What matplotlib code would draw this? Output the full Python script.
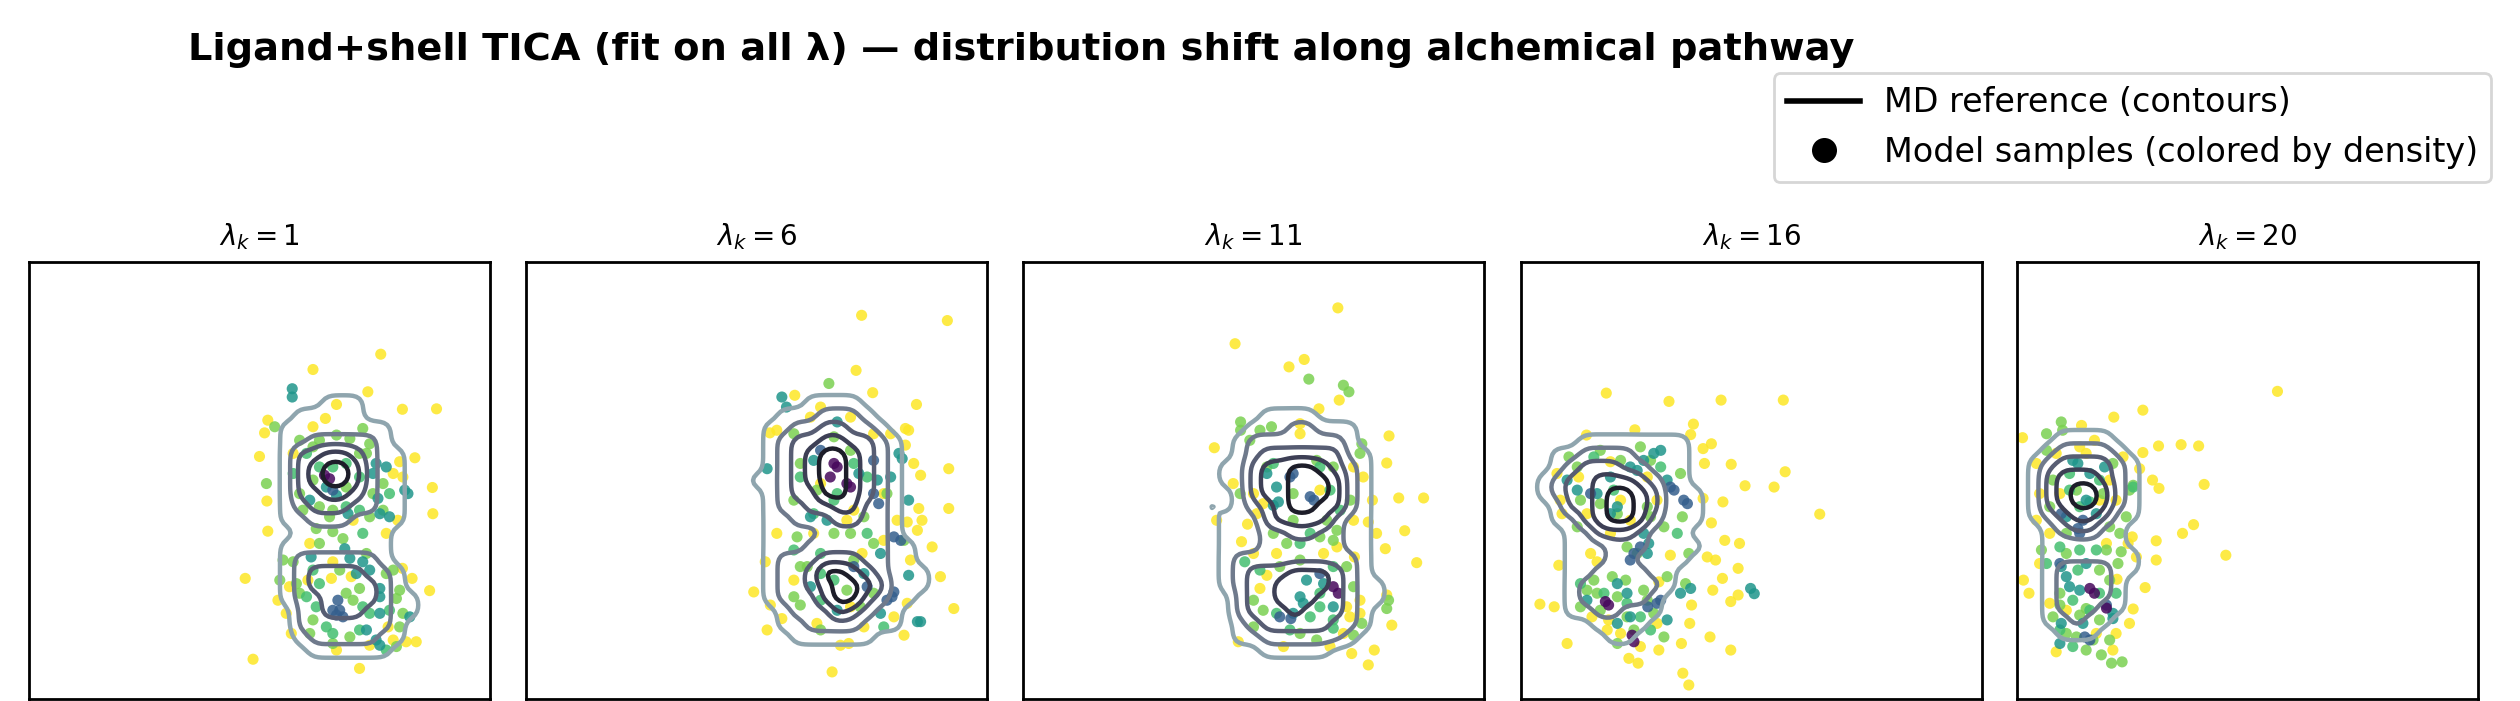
import numpy as np
import matplotlib
matplotlib.use("Agg")
import matplotlib.pyplot as plt
from matplotlib.lines import Line2D

# -------- panels --------
LAMBDAS = [1, 6, 11, 16, 20]

# MD reference density, read off as contour level per grid cell
# (0 = outside, 5 = core), rows from top to bottom, cells 3 units apart
GRID_STEP = 3
GRID_ORIGIN = [(50, 74), (47, 74), (38, 68), (2, 62), (1, 63)]   # (x of first col, y of top row)

GRID_1 = ["0000000000000", "0000000000000", "0000011100000", "0001111100000",
          "0011111111000", "0011222221000", "0013344321100", "0013455421100",
          "0013455421100", "0013344321100", "0012333221100", "0011222111100",
          "0001111111000", "0011111111000", "0012222221000", "0012333322100",
          "0012333332100", "0012233332110", "0002233322110", "0002222222100",
          "0001222221100", "0000111111000", "0000000000000", "0000000000000"]

GRID_2 = ["000000000000000", "000000000000000", "000001111000000", "000111222100000",
          "001122332210000", "001233443321000", "001234554321000", "001234554321000",
          "011234554321000", "001233554321000", "001223344221000", "001122233221000",
          "001111222221000", "001112222221100", "001222333221100", "001223554321110",
          "001223455431110", "001222455321100", "000122243211000", "000112222111000",
          "000011111100000", "000000000000000"]

GRID_3 = ["000000000000000", "000001111000000", "000011122111000", "000122222221000",
          "000123333331100", "001134455432100", "001134455542100", "000134455542100",
          "010123455442100", "001113444421100", "001112233221100", "001112222221100",
          "001222222222100", "001233344432100", "001233454432110", "000233444332110",
          "000233343332100", "000123333322100", "000112222221000", "000001111100000",
          "000000000000000", "000000000000000"]

GRID_4 = ["000000000000000", "000011111111000", "001122221111000", "001233322111000",
          "012334443211000", "012334554311100", "001334554311100", "001134554211100",
          "000113332111000", "000111222111100", "000111221111000", "000112222110000",
          "000122222210000", "000122222100000", "000112211101000", "000001111000000",
          "000000110000000", "000000000000000", "000000000000000"]

GRID_5 = ["00000000000", "00011110000", "00122221000", "01233332100",
          "01344432100", "01345542100", "01345542100", "01234431100",
          "00123311000", "00111111000", "00111111100", "00122221100",
          "00122221000", "00122221000", "00122211000", "00112110000",
          "00011100000", "00000000000", "00000000000"]

# model samples: (x, y, density class) in panel units 0..100
# y = sparse/yellow, l = light green, g = green, t = teal, b = blue, p = purple (densest)
PTS_1 = [
    (76.3, 78.9, "y"), (61.6, 75.4, "y"), (73.5, 70.3, "y"), (66.7, 67.4, "y"), (81.0, 66.3, "y"),
    (88.4, 66.4, "y"), (51.8, 63.8, "y"), (51.1, 60.9, "y"), (61.6, 62.3, "y"), (64.3, 64.2, "y"),
    (50.0, 55.5, "y"), (83.7, 55.2, "y"), (80.4, 54.3, "y"), (87.5, 48.4, "y"), (51.6, 45.3, "y"),
    (87.6, 42.4, "y"), (51.8, 38.4, "y"), (46.9, 27.6, "y"), (86.9, 24.8, "y"), (48.6, 9.1, "y"),
    (71.7, 7.0, "y"), (81.0, 29.9, "y"), (83.1, 27.6, "y"), (84.0, 13.1, "y"), (81.8, 13.1, "y"),
    (56.9, 15.0, "y"), (55.8, 19.6, "y"), (54.0, 22.6, "y"), (81.1, 50.8, "y"), (80.0, 40.9, "y"),
    (77.5, 37.9, "y"), (70.3, 40.9, "y"), (60.9, 35.6, "y"), (65.9, 31.4, "y"), (69.9, 28.0, "y"),
    (65.6, 27.6, "y"), (73.9, 12.3, "y"), (77.9, 16.5, "y"), (79.0, 13.5, "y"), (57.3, 56.2, "y"),
    (79.0, 51.6, "y"), (60.5, 27.2, "y"), (66.7, 11.2, "y"), (56.5, 25.7, "y"),
    (57.1, 71.0, "t"), (57.1, 69.1, "t"), (81.5, 47.8, "t"), (82.2, 47.0, "t"), (76.1, 25.3, "t"),
    (76.1, 23.4, "t"), (75.3, 13.5, "t"), (76.1, 12.3, "t"), (69.6, 32.2, "t"), (68.5, 34.4, "t"),
    (61.2, 32.5, "t"), (78.2, 41.7, "t"), (82.6, 18.8, "t"), (75.7, 45.9, "t"), (72.4, 31.4, "t"),
    (77.5, 53.1, "t"), (64.5, 48.5, "t"), (66.7, 46.6, "t"), (75.3, 53.9, "t"), (76.1, 42.4, "t"),
    (60.9, 45.5, "t"), (74.6, 51.6, "t"), (69.2, 42.4, "t"), (73.9, 29.5, "t"), (71.0, 28.7, "t"),
    (76.1, 19.6, "t"), (73.2, 15.8, "t"),
    (53.3, 62.3, "l"), (72.4, 61.9, "l"), (51.5, 49.3, "l"), (55.1, 31.8, "l"), (57.3, 31.4, "l"),
    (62.3, 39.0, "l"), (65.9, 38.3, "l"), (68.1, 36.7, "l"), (71.7, 25.3, "l"), (79.7, 23.0, "l"),
    (81.1, 19.6, "l"), (58.7, 59.2, "l"), (63.0, 59.2, "l"), (69.6, 59.6, "l"), (73.2, 56.2, "l"),
    (61.6, 50.1, "l"), (68.8, 48.5, "l"), (65.2, 41.7, "l"), (59.4, 43.2, "l"), (74.6, 47.0, "l"),
    (76.8, 43.2, "l"), (73.2, 33.3, "l"), (77.5, 28.7, "l"), (70.3, 22.6, "l"), (65.9, 12.7, "l"),
    (79.7, 12.0, "l"), (58.0, 26.4, "l"), (61.6, 18.1, "l"), (66.7, 60.4, "l"), (73.9, 58.4, "l"),
    (76.8, 49.3, "l"), (73.9, 41.7, "l"), (65.9, 43.2, "l"), (63.0, 44.0, "l"), (58.7, 47.0, "l"),
    (61.6, 57.7, "l"), (71.7, 56.2, "l"), (63.0, 35.6, "l"), (79.0, 29.5, "l"), (80.4, 24.9, "l"),
    (67.4, 29.5, "l"), (58.7, 24.2, "l"), (68.8, 24.2, "l"), (69.6, 14.2, "l"), (60.9, 15.0, "l"),
    (80.4, 16.5, "l"), (54.4, 27.2, "l"),
    (63.0, 53.1, "g"), (65.9, 53.1, "g"), (68.8, 53.9, "g"), (57.3, 51.6, "g"), (71.7, 50.8, "g"),
    (65.9, 15.0, "g"), (71.7, 15.8, "g"), (60.2, 23.4, "g"), (73.9, 19.6, "g"), (63.0, 26.4, "g"),
    (78.2, 47.0, "g"), (71.7, 43.2, "g"), (68.8, 44.0, "g"), (60.2, 56.2, "g"), (72.4, 37.9, "g"),
    (61.6, 29.5, "g"), (62.3, 21.1, "g"), (72.4, 21.1, "g"), (78.2, 20.3, "g"), (64.5, 16.5, "g"),
    (77.5, 11.2, "g"),
    (67.0, 22.6, "b"), (67.4, 20.3, "b"), (65.9, 20.3, "b"), (68.1, 18.8, "b"), (65.9, 47.8, "b"),
    (66.7, 19.2, "b"), (64.1, 51.2, "p"), (65.2, 50.4, "p"),
]

PTS_2 = [
    (72.8, 87.8, "y"), (91.4, 86.6, "y"), (71.6, 75.2, "y"), (75.2, 70.1, "y"), (84.7, 67.4, "y"),
    (58.3, 69.5, "y"), (82.3, 61.9, "y"), (83.0, 61.5, "y"), (52.9, 60.9, "y"), (82.3, 58.1, "y"),
    (84.1, 53.9, "y"), (91.7, 52.7, "y"), (85.6, 51.2, "y"), (91.7, 43.6, "y"), (85.2, 43.6, "y"),
    (82.7, 40.5, "y"), (85.9, 40.9, "y"), (84.9, 38.6, "y"), (88.1, 34.8, "y"), (89.9, 28.0, "y"),
    (92.8, 20.7, "y"), (49.4, 24.5, "y"), (53.0, 21.5, "y"), (52.3, 15.8, "y"), (55.5, 18.4, "y"),
    (82.0, 14.6, "y"), (68.2, 12.3, "y"), (70.0, 12.7, "y"), (66.4, 6.2, "y"), (51.9, 31.4, "y"),
    (54.4, 37.9, "y"), (79.8, 18.8, "y"), (82.7, 21.9, "y"), (63.9, 66.8, "y"), (77.6, 36.3, "y"),
    (72.9, 33.3, "y"), (77.6, 47.0, "y"), (63.9, 49.3, "y"), (58.1, 27.2, "y"), (70.4, 21.1, "y"),
    (54.4, 61.5, "y"), (71.1, 43.2, "y"), (61.7, 64.5, "y"), (70.4, 64.5, "y"), (75.4, 60.7, "y"),
    (69.6, 40.9, "y"), (79.1, 60.7, "y"), (62.4, 37.9, "y"), (73.3, 16.5, "y"), (63.1, 17.3, "y"),
    (83.4, 31.8, "y"), (80.5, 40.9, "y"),
    (55.5, 69.1, "t"), (56.5, 66.8, "t"), (52.3, 52.7, "t"), (80.9, 56.2, "t"), (81.6, 55.0, "t"),
    (83.0, 45.5, "t"), (84.9, 17.7, "t"), (85.6, 17.7, "t"), (83.0, 28.3, "t"), (72.2, 51.6, "t"),
    (73.3, 28.7, "t"), (67.5, 63.4, "t"), (79.1, 50.8, "t"), (61.7, 41.7, "t"), (65.3, 40.9, "t"),
    (76.2, 50.1, "t"), (62.4, 54.6, "t"), (76.9, 33.3, "t"), (67.5, 20.3, "t"), (61.7, 25.7, "t"),
    (76.9, 19.6, "t"),
    (65.7, 72.2, "l"), (66.8, 60.0, "l"), (59.5, 53.9, "l"), (78.3, 47.0, "l"), (70.4, 37.9, "l"),
    (58.8, 37.1, "l"), (75.4, 24.2, "l"), (59.5, 30.3, "l"), (70.4, 56.9, "l"), (63.1, 47.8, "l"),
    (69.6, 24.9, "l"), (75.4, 35.6, "l"), (59.5, 21.5, "l"), (63.9, 15.8, "l"), (82.0, 36.3, "l"),
    (58.1, 60.7, "l"), (58.1, 45.5, "l"), (73.3, 41.7, "l"), (66.8, 37.9, "l"), (61.0, 30.3, "l"),
    (71.1, 31.8, "l"), (72.5, 21.1, "l"), (58.1, 23.4, "l"),
    (62.4, 42.4, "g"), (67.5, 47.0, "g"), (63.9, 28.7, "g"), (74.0, 50.8, "g"), (58.1, 34.1, "g"),
    (59.5, 50.8, "g"), (71.1, 53.9, "g"), (66.8, 45.5, "g"), (74.0, 37.9, "g"), (63.9, 33.3, "g"),
    (63.9, 22.6, "g"), (66.8, 27.2, "g"), (77.6, 16.5, "g"),
    (79.8, 37.1, "b"), (81.3, 36.3, "b"), (79.8, 24.5, "b"), (79.4, 23.4, "b"), (78.3, 22.6, "b"),
    (75.4, 54.6, "b"), (63.9, 56.9, "b"), (76.5, 44.7, "b"), (71.1, 30.3, "b"), (75.4, 47.0, "b"),
    (74.0, 25.7, "b"),
    (66.8, 53.9, "p"), (67.5, 53.1, "p"), (69.6, 49.3, "p"), (70.4, 48.5, "p"), (66.0, 50.8, "p"),
]

PTS_3 = [
    (68.3, 89.5, "y"), (46.0, 81.3, "y"), (61.0, 77.7, "y"), (57.7, 76.0, "y"), (68.6, 68.4, "y"),
    (64.2, 66.4, "y"), (41.5, 57.5, "y"), (79.4, 60.2, "y"), (78.9, 54.0, "y"), (81.5, 46.0, "y"),
    (86.9, 46.0, "y"), (75.8, 45.5, "y"), (82.8, 38.5, "y"), (76.7, 37.9, "y"), (74.9, 40.5, "y"),
    (78.6, 34.4, "y"), (85.4, 31.2, "y"), (71.9, 32.5, "y"), (78.9, 23.8, "y"), (80.0, 16.9, "y"),
    (76.2, 11.2, "y"), (74.9, 7.8, "y"), (71.3, 10.4, "y"), (46.7, 13.1, "y"), (56.5, 12.0, "y"),
    (42.0, 40.9, "y"), (47.4, 36.0, "y"), (48.7, 40.0, "y"), (51.4, 25.3, "y"), (52.9, 28.3, "y"),
    (55.0, 33.3, "y"), (64.4, 47.8, "y"), (65.2, 33.3, "y"), (73.1, 22.6, "y"), (70.9, 18.8, "y"),
    (66.6, 12.0, "y"), (60.1, 63.0, "y"), (71.7, 53.1, "y"), (45.6, 49.3, "y"), (52.1, 44.7, "y"),
    (60.1, 60.7, "y"), (73.8, 50.8, "y"), (50.0, 47.0, "y"), (50.7, 42.4, "y"), (71.7, 40.9, "y"),
    (68.1, 34.8, "y"), (50.0, 33.3, "y"), (70.2, 21.1, "y"), (73.1, 19.6, "y"), (69.5, 15.0, "y"),
    (62.0, 73.2, "l"), (69.5, 71.8, "l"), (70.7, 70.3, "l"), (47.2, 63.4, "l"), (47.2, 61.5, "l"),
    (51.4, 61.5, "l"), (53.9, 62.3, "l"), (73.5, 58.4, "l"), (79.3, 22.6, "l"), (78.9, 20.7, "l"),
    (73.5, 17.3, "l"), (71.7, 14.6, "l"), (47.1, 47.0, "l"), (58.6, 40.9, "l"), (57.2, 35.6, "l"),
    (64.4, 37.1, "l"), (67.3, 36.3, "l"), (60.1, 31.8, "l"), (70.2, 30.3, "l"), (52.1, 20.3, "l"),
    (60.1, 15.0, "l"), (63.7, 54.6, "l"), (52.9, 53.1, "l"), (49.2, 59.2, "l"), (73.1, 56.2, "l"),
    (71.0, 45.5, "l"), (65.9, 40.9, "l"), (68.1, 38.6, "l"), (58.6, 47.0, "l"), (67.3, 53.1, "l"),
    (54.3, 37.9, "l"), (55.7, 30.3, "l"), (50.0, 22.6, "l"), (71.7, 25.7, "l"), (50.0, 16.5, "l"),
    (63.7, 13.5, "l"),
    (48.1, 31.4, "g"), (64.4, 24.2, "g"), (55.0, 19.6, "g"), (62.3, 18.8, "g"), (67.3, 18.1, "g"),
    (67.3, 16.2, "g"), (57.9, 15.8, "g"), (54.3, 53.9, "g"), (66.6, 47.8, "g"), (62.3, 37.9, "g"),
    (68.8, 43.2, "g"), (64.4, 53.1, "g"), (60.1, 35.6, "g"), (51.4, 29.5, "g"), (67.3, 30.3, "g"),
    (64.4, 21.1, "g"),
    (55.4, 45.1, "t"), (54.3, 44.3, "t"), (60.1, 23.4, "t"), (60.8, 21.9, "t"), (58.6, 19.6, "t"),
    (55.0, 48.5, "t"), (52.9, 51.6, "t"), (61.5, 27.2, "t"), (65.2, 26.4, "t"), (67.3, 21.1, "t"),
    (57.9, 50.8, "b"), (58.6, 51.6, "b"), (62.3, 46.3, "b"), (63.1, 45.5, "b"), (55.7, 18.8, "b"),
    (58.1, 18.4, "b"), (64.4, 28.7, "b"),
    (67.3, 25.7, "p"), (68.4, 24.2, "p"),
]

PTS_4 = [
    (18.5, 70.0, "y"), (32.1, 68.1, "y"), (43.4, 68.4, "y"), (56.9, 68.4, "y"), (37.4, 62.9, "y"),
    (24.7, 61.6, "y"), (14.2, 60.4, "y"), (36.8, 60.5, "y"), (39.5, 57.3, "y"), (41.3, 58.4, "y"),
    (39.8, 53.9, "y"), (45.6, 53.7, "y"), (57.3, 52.0, "y"), (48.6, 48.8, "y"), (54.9, 48.5, "y"),
    (39.5, 45.9, "y"), (43.8, 45.1, "y"), (64.8, 42.3, "y"), (41.3, 40.3, "y"), (44.2, 36.3, "y"),
    (47.4, 35.6, "y"), (42.2, 31.8, "y"), (40.4, 32.5, "y"), (47.1, 29.9, "y"), (43.7, 27.6, "y"),
    (41.6, 24.9, "y"), (45.5, 22.3, "y"), (47.1, 23.8, "y"), (37.0, 21.5, "y"), (36.6, 17.3, "y"),
    (41.0, 14.2, "y"), (45.5, 11.2, "y"), (34.8, 12.7, "y"), (35.1, 5.9, "y"), (36.4, 3.2, "y"),
    (25.4, 8.2, "y"), (23.4, 9.3, "y"), (10.0, 12.7, "y"), (4.1, 21.7, "y"), (7.2, 21.1, "y"),
    (8.2, 30.6, "y"), (15.1, 33.3, "y"), (16.5, 31.4, "y"), (32.4, 32.9, "y"), (29.9, 26.8, "y"),
    (25.9, 12.0, "y"), (29.9, 11.2, "y"), (18.7, 15.8, "y"), (15.4, 18.8, "y"), (8.9, 42.4, "y"),
    (12.5, 50.8, "y"), (19.4, 54.3, "y"), (27.4, 50.8, "y"), (21.6, 45.5, "y"), (23.7, 40.9, "y"),
    (19.4, 37.9, "y"), (19.0, 18.1, "y"), (29.5, 45.5, "y"), (14.3, 42.4, "y"), (8.5, 45.5, "y"),
    (7.8, 51.6, "y"), (29.5, 17.3, "y"), (21.6, 15.0, "y"),
    (10.4, 55.4, "l"), (17.2, 56.9, "l"), (25.9, 57.7, "l"), (28.1, 54.6, "l"), (34.6, 51.6, "l"),
    (35.0, 41.7, "l"), (36.4, 33.3, "l"), (35.7, 26.4, "l"), (31.7, 28.0, "l"), (27.4, 22.6, "l"),
    (28.8, 19.6, "l"), (31.0, 14.2, "l"), (20.9, 12.7, "l"), (16.5, 24.2, "l"), (14.3, 24.9, "l"),
    (12.9, 21.1, "l"), (22.7, 27.2, "l"), (19.8, 28.0, "l"), (12.9, 45.5, "l"), (20.9, 42.4, "l"),
    (27.4, 44.0, "l"), (25.2, 33.3, "l"), (23.0, 18.8, "l"), (12.2, 53.1, "l"), (21.6, 54.6, "l"),
    (28.1, 41.7, "l"), (31.0, 39.4, "l"), (23.0, 34.8, "l"), (17.2, 44.7, "l"), (12.2, 39.4, "l"),
    (15.8, 27.2, "l"), (20.9, 23.4, "l"), (26.6, 24.9, "l"), (17.2, 20.3, "l"), (24.5, 15.8, "l"),
    (10.0, 50.1, "t"),
    (30.3, 56.9, "t"), (28.8, 56.2, "t"), (12.2, 47.8, "t"), (16.5, 47.0, "t"), (19.4, 50.8, "t"),
    (27.7, 35.6, "t"), (27.4, 33.3, "t"), (49.8, 25.3, "t"), (50.6, 24.1, "t"), (34.6, 24.2, "t"),
    (36.8, 25.3, "t"), (23.0, 24.2, "t"), (23.7, 18.8, "t"), (20.9, 26.4, "t"), (25.2, 52.3, "t"),
    (20.9, 44.0, "t"), (23.7, 53.1, "t"), (26.6, 54.6, "t"), (31.7, 50.1, "t"), (26.6, 37.9, "t"),
    (19.4, 42.4, "t"), (20.9, 17.3, "t"), (14.3, 22.6, "t"), (31.7, 18.1, "t"),
    (15.8, 55.4, "g"), (30.3, 53.1, "g"), (33.9, 37.9, "g"), (20.1, 47.8, "g"), (12.9, 26.4, "g"),
    (18.0, 24.2, "g"), (23.0, 21.9, "g"), (25.9, 18.8, "g"), (28.1, 15.8, "g"),
    (32.4, 48.5, "b"), (35.3, 45.5, "b"), (36.1, 44.7, "b"), (24.5, 33.3, "b"), (23.7, 31.8, "b"),
    (29.5, 21.9, "b"), (30.3, 22.6, "b"), (27.5, 21.1, "b"), (15.1, 47.0, "b"), (33.2, 47.8, "b"),
    (25.9, 34.8, "b"),
    (18.3, 22.3, "p"), (19.0, 21.5, "p"), (24.1, 14.6, "p"), (24.5, 13.1, "p"),
]

PTS_5 = [
    (56.5, 70.4, "y"), (27.3, 66.1, "y"), (21.0, 64.5, "y"), (1.2, 59.8, "y"), (14.0, 62.6, "y"),
    (30.7, 57.9, "y"), (35.6, 58.2, "y"), (39.4, 57.9, "y"), (27.3, 56.4, "y"), (16.8, 59.2, "y"),
    (23.0, 55.4, "y"), (26.6, 52.7, "y"), (29.4, 50.1, "y"), (30.8, 48.2, "y"), (40.6, 49.1, "y"),
    (38.3, 39.9, "y"), (35.9, 37.9, "y"), (30.2, 36.2, "y"), (30.2, 31.8, "y"), (45.3, 32.9, "y"),
    (27.8, 25.5, "y"), (25.2, 20.6, "y"), (21.7, 27.4, "y"), (25.0, 37.1, "y"), (24.1, 35.6, "y"),
    (25.9, 32.5, "y"), (1.4, 27.2, "y"), (2.6, 24.2, "y"), (4.9, 31.0, "y"), (4.2, 40.9, "y"),
    (8.5, 10.8, "y"), (20.8, 11.2, "y"), (17.2, 15.0, "y"), (10.7, 20.3, "y"), (9.3, 47.0, "y"),
    (17.9, 45.5, "y"), (15.0, 56.2, "y"), (20.1, 50.1, "y"), (7.1, 37.9, "y"), (19.4, 35.6, "y"),
    (4.2, 53.9, "y"), (8.5, 56.2, "y"), (13.6, 57.7, "y"), (4.9, 47.0, "y"), (21.5, 45.5, "y"),
    (7.1, 21.9, "y"), (21.5, 15.0, "y"), (24.4, 17.3, "y"),
    (9.6, 63.4, "l"), (9.9, 61.5, "l"), (6.4, 60.7, "l"), (25.2, 48.9, "l"), (24.4, 47.8, "l"),
    (5.3, 34.1, "l"), (22.6, 33.7, "l"), (21.9, 31.0, "l"), (19.4, 34.1, "l"), (18.3, 10.1, "l"),
    (20.5, 8.2, "l"), (22.8, 8.5, "l"), (13.6, 19.2, "l"), (15.0, 20.7, "l"), (9.3, 21.5, "l"),
    (7.8, 18.8, "l"), (12.9, 14.2, "l"), (16.5, 13.5, "l"), (20.1, 13.5, "l"), (12.9, 47.8, "l"),
    (20.8, 53.9, "l"), (20.1, 39.4, "l"), (10.7, 33.3, "l"), (6.4, 56.9, "l"), (7.8, 50.1, "l"),
    (7.1, 44.0, "l"), (18.7, 47.0, "l"), (23.7, 41.7, "l"), (22.3, 37.9, "l"), (10.7, 37.9, "l"),
    (17.9, 29.5, "l"), (20.1, 27.2, "l"), (9.3, 24.2, "l"), (17.9, 18.1, "l"), (10.7, 15.0, "l"),
    (15.0, 11.2, "l"),
    (6.4, 31.0, "g"), (17.2, 34.1, "g"), (13.6, 34.1, "g"), (13.2, 29.5, "g"), (17.9, 24.2, "g"),
    (15.8, 20.3, "g"), (9.3, 15.8, "g"), (12.1, 12.0, "g"), (13.6, 44.0, "g"), (15.8, 45.1, "g"),
    (11.4, 47.8, "g"), (11.4, 51.6, "g"), (17.9, 50.1, "g"), (25.2, 48.5, "g"), (9.3, 34.8, "g"),
    (21.5, 24.2, "g"), (12.1, 22.6, "g"),
    (9.6, 30.3, "t"), (10.7, 28.0, "t"), (11.4, 25.7, "t"), (13.6, 24.9, "t"), (20.8, 19.6, "t"),
    (20.8, 18.4, "t"), (13.2, 53.9, "t"), (12.1, 54.6, "t"), (15.0, 45.5, "t"), (19.0, 53.1, "t"),
    (9.6, 17.3, "t"), (10.7, 41.7, "t"), (17.2, 42.4, "t"), (15.8, 51.6, "t"), (15.0, 31.0, "t"),
    (14.3, 17.3, "t"), (9.3, 12.7, "t"),
    (9.3, 31.0, "b"), (13.2, 39.0, "b"), (13.6, 37.9, "b"), (14.7, 14.2, "b"), (15.8, 13.5, "b"),
    (19.4, 21.5, "b"), (9.6, 42.4, "b"), (14.3, 40.9, "b"),
    (15.8, 25.3, "p"), (16.8, 24.2, "p"), (19.4, 20.8, "p"),
]

GRIDS = [GRID_1, GRID_2, GRID_3, GRID_4, GRID_5]
POINTS = [PTS_1, PTS_2, PTS_3, PTS_4, PTS_5]

DENSITY_VALUE = {"y": 1.0, "l": 0.8, "g": 0.7, "t": 0.52, "b": 0.3, "p": 0.02}
CONTOUR_COLORS = ["#8fa5ae", "#6f7a8c", "#575d73", "#3d3f55", "#1d1d29"]

W, H, DPI = 2520, 701, 200
AX_LEFT_PX = [29, 526, 1023, 1521, 2017]
AX_W_PX, AX_TOP_PX, AX_BOT_PX = 461, 262, 699


def gauss_blur(z, sigma):
    r = int(3 * sigma)
    t = np.arange(-r, r + 1)
    g = np.exp(-t ** 2 / (2 * sigma ** 2))
    g /= g.sum()
    z = np.apply_along_axis(lambda v: np.convolve(v, g, mode="same"), 0, z)
    z = np.apply_along_axis(lambda v: np.convolve(v, g, mode="same"), 1, z)
    return z


def grid_to_arrays(rows, origin, k=4, sigma=1.6):
    z = np.array([[int(ch) for ch in r] for r in rows], dtype=float)
    x0, ytop = origin
    xs = x0 + GRID_STEP * np.arange(z.shape[1])
    ys = ytop - GRID_STEP * np.arange(z.shape[0])
    # resample finer (bilinear) and round off the cell corners a little
    fx = np.linspace(xs[0], xs[-1], (len(xs) - 1) * k + 1)
    fy = np.linspace(ys[-1], ys[0], (len(ys) - 1) * k + 1)
    tmp = np.array([np.interp(fx, xs, row) for row in z])
    zz = np.array([np.interp(fy, ys[::-1], col[::-1]) for col in tmp.T]).T
    return fx, fy, gauss_blur(zz, sigma)


def draw_panel(ax, lam, rows, origin, pts):
    arr = sorted(pts, key=lambda p: -DENSITY_VALUE[p[2]])
    x = [p[0] for p in arr]
    y = [p[1] for p in arr]
    c = [DENSITY_VALUE[p[2]] for p in arr]
    ax.scatter(x, y, c=c, cmap="viridis", vmin=0, vmax=1, s=16, alpha=0.85,
               linewidths=0, zorder=2)

    xs, ys, z = grid_to_arrays(rows, origin)
    ax.contour(xs, ys, z, levels=[0.5, 1.5, 2.5, 3.5, 4.5], colors=CONTOUR_COLORS,
               linewidths=1.6, zorder=3)

    ax.set_xlim(0, 100); ax.set_ylim(0, 100)
    ax.set_xticks([]); ax.set_yticks([])
    for sp in ax.spines.values():
        sp.set_linewidth(1.0)
    ax.set_title(rf"$\lambda_k = {lam}$", fontsize=10)


def main():
    fig = plt.figure(figsize=(W / DPI, H / DPI), dpi=DPI)
    for i, lam in enumerate(LAMBDAS):
        ax = fig.add_axes([AX_LEFT_PX[i] / W, (H - AX_BOT_PX) / H,
                           AX_W_PX / W, (AX_BOT_PX - AX_TOP_PX) / H])
        draw_panel(ax, lam, GRIDS[i], GRID_ORIGIN[i], POINTS[i])

    fig.text(1021 / W, (H - 60) / H,
             "Ligand+shell TICA (fit on all λ) — distribution shift along alchemical pathway",
             ha="center", va="baseline", fontsize=13.8, fontweight="bold")

    handles = [Line2D([0], [0], color="k", lw=2),
               Line2D([0], [0], marker="o", color="k", linestyle="none", markersize=8)]
    fig.legend(handles, ["MD reference (contours)", "Model samples (colored by density)"],
               loc="upper right", bbox_to_anchor=(2491 / W, (H - 73) / H), fontsize=12,
               handlelength=2.2, handletextpad=0.7, borderaxespad=0)

    fig.savefig("out.png", dpi=DPI)
    plt.close(fig)


if __name__ == "__main__":
    main()
